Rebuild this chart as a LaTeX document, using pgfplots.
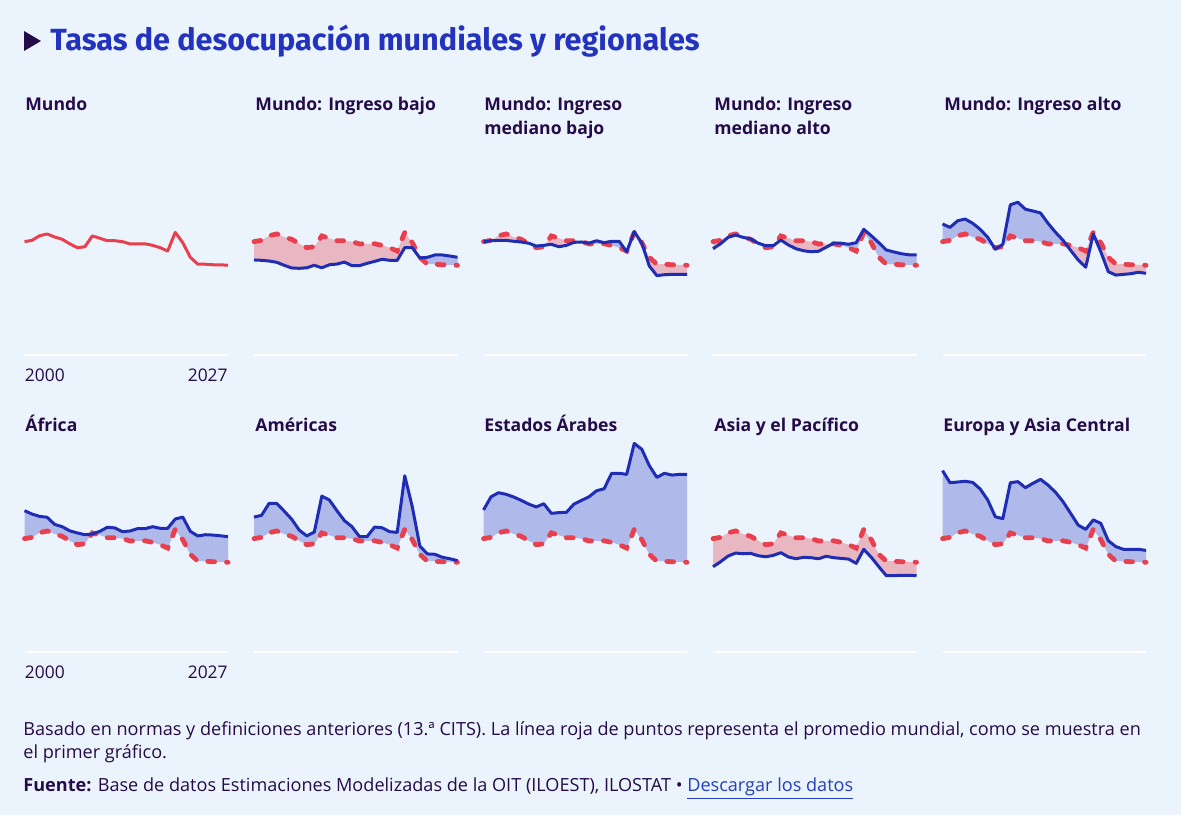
\documentclass[border=0pt]{standalone}
\usepackage{pgfplots}
\pgfplotsset{compat=1.18}
\usepackage{pgfplotstable}
\usepgfplotslibrary{fillbetween}
\usepackage{fontspec}
\setmainfont{Open Sans}
\newfontfamily\titlefont{Fira Sans}
\definecolor{bg}{HTML}{EBF4FC}
\definecolor{blueline}{HTML}{1F2DB5}
\definecolor{redline}{HTML}{E8404F}
\definecolor{bluefill}{HTML}{AFB9EA}
\definecolor{redfill}{HTML}{E8B7C2}
\definecolor{titleblue}{HTML}{2333BE}
\definecolor{ink}{HTML}{250B48}
\definecolor{linkblue}{HTML}{2240C0}
\pagecolor{bg}

\pgfplotstableread{
year world bajo mbajo malto alto afr ame arab asia eur
2000 6.37 5.34 6.36 5.97 7.36 7.94 7.58 7.98 4.79 10.19
2001 6.44 5.32 6.42 6.25 7.17 7.75 7.68 8.72 5.07 9.51
2002 6.70 5.28 6.44 6.61 7.54 7.62 8.35 8.95 5.39 9.55
2003 6.80 5.21 6.44 6.74 7.64 7.57 8.35 8.86 5.56 9.59
2004 6.63 5.04 6.39 6.61 7.40 7.17 7.92 8.71 5.52 9.53
2005 6.50 4.89 6.35 6.52 7.06 7.04 7.46 8.52 5.54 9.16
2006 6.25 4.87 6.28 6.28 6.61 6.81 6.85 8.31 5.41 8.54
2007 6.03 4.90 6.12 6.14 5.94 6.69 6.52 8.15 5.35 7.60
2008 6.08 5.04 6.16 6.14 6.22 6.59 6.74 8.33 5.43 7.49
2009 6.69 4.90 6.22 6.46 8.44 6.63 8.76 7.79 5.58 9.51
2010 6.56 5.07 6.08 6.18 8.58 6.78 8.54 7.83 5.34 9.57
2011 6.42 5.11 6.16 5.97 8.19 7.01 7.94 7.85 5.24 9.23
2012 6.42 5.22 6.33 5.86 8.09 6.97 7.38 8.31 5.32 9.48
2013 6.37 5.02 6.35 5.80 7.98 6.76 7.04 8.52 5.30 9.70
2014 6.24 5.02 6.28 5.83 7.40 6.80 6.48 8.72 5.24 9.38
2015 6.25 5.15 6.42 6.05 6.89 6.93 6.48 9.06 5.38 8.97
2016 6.25 5.26 6.31 6.28 6.44 6.93 7.02 9.17 5.30 8.44
2017 6.16 5.38 6.39 6.28 5.88 7.04 6.98 10.04 5.26 7.79
2018 6.03 5.32 6.39 6.22 5.34 6.95 6.76 10.04 5.22 7.13
2019 5.84 5.32 5.80 6.31 4.93 6.95 6.72 9.98 4.98 6.89
2020 6.89 6.03 6.93 7.06 6.80 7.47 9.90 11.72 5.77 7.42
2021 6.31 6.03 6.28 6.70 5.80 7.58 8.16 11.39 5.32 7.23
2022 5.49 5.45 5.00 6.31 4.68 6.78 5.96 10.47 4.79 6.25
2023 5.10 5.49 4.46 5.90 4.49 6.52 5.51 9.81 4.29 5.92
2024 5.10 5.62 4.51 5.79 4.53 6.59 5.49 10.04 4.29 5.77
2025 5.07 5.62 4.53 5.69 4.57 6.57 5.32 9.94 4.31 5.77
2026 5.07 5.56 4.53 5.63 4.65 6.53 5.24 9.98 4.31 5.77
2027 5.04 5.49 4.53 5.63 4.59 6.48 5.13 9.98 4.29 5.71
}\data

\newcommand{\ptfont}{\fontsize{8.8}{10}\selectfont\bfseries}
\newcommand{\tickfont}{\fontsize{8.7}{10}\selectfont}

\pgfplotsset{
  panel/.style={
    scale only axis, width=101.75pt, height=106.8pt,
    xmin=2000, xmax=2027, ymin=0, ymax=12,
    anchor=south west, clip=false,
    axis x line*=bottom, axis y line=none,
    axis line style={draw=white, line width=0.6pt},
    xtick=\empty, ytick=\empty,
    tick style={draw=none},
  },
  years/.style={
    xtick={2000}, xticklabels={2000},
    extra x ticks={2027}, extra x tick labels={2027},
    xticklabel style={anchor=north west, inner sep=0pt, font=\tickfont, text=ink, yshift=-6.5pt},
    extra x tick style={xticklabel style={anchor=north east}},
  },
}

% a coloured stretch of the band between the region (R) and the world (W)
\newcommand{\seg}[3]{\addplot[fill=#1, draw=none] fill between[of=R and W, soft clip={domain=#2:#3}];}

% #1 extra options, #2 x px, #3 baseline y px, #4 column, #5 band stretches
\newcommand{\panel}[5][]{%
\begin{axis}[panel, at={(#2*0.5pt,-#3*0.5pt)}, #1]
\addplot[draw=none, name path=R] table[x=year, y=#4]{\data};
\addplot[draw=none, name path=W] table[x=year, y=world]{\data};
#5
\addplot[redline, line width=2.4pt, dash pattern=on 3.4pt off 6pt, line cap=round] table[x=year, y=world]{\data};
\addplot[blueline, line width=1.5pt, line join=round] table[x=year, y=#4]{\data};
\end{axis}}

\begin{document}
\begin{tikzpicture}
\begin{scope}[x=0.5pt, y=-0.5pt]
\fill[ink] (24,31) -- (24,51) -- (41,41) -- cycle;
\node[anchor=base west, inner sep=0pt, text=titleblue, font=\titlefont\bfseries\fontsize{15.3}{18}\selectfont] at (50,50) {Tasas de desocupación mundiales y regionales};
\end{scope}

% row 1
\begin{axis}[panel, years, at={(12.25pt,-177.5pt)}]
\addplot[redline, line width=1.5pt, line join=round] table[x=year, y=world]{\data};
\end{axis}
\panel{254}{355}{bajo}{\seg{redfill}{2000}{2022.09}\seg{bluefill}{2022.09}{2027}}
\panel{483.5}{355}{mbajo}{\seg{redfill}{2000}{2005.83}\seg{bluefill}{2005.83}{2008.15}%
  \seg{redfill}{2008.15}{2013.33}\seg{bluefill}{2013.33}{2018.9}\seg{redfill}{2018.9}{2019.5}%
  \seg{bluefill}{2019.5}{2020.57}\seg{redfill}{2020.57}{2027}}
\panel{713}{355}{malto}{\seg{redfill}{2000}{2004.5}\seg{bluefill}{2004.5}{2008.21}%
  \seg{redfill}{2008.21}{2015.87}\seg{bluefill}{2015.87}{2027}}
\panel{942.5}{355}{alto}{\seg{bluefill}{2000}{2006.8}\seg{redfill}{2006.8}{2007.39}%
  \seg{bluefill}{2007.39}{2016.4}\seg{redfill}{2016.4}{2027}}
% row 2
\panel[years]{24.5}{652}{afr}{\seg{bluefill}{2000}{2008.89}\seg{redfill}{2008.89}{2009.21}%
  \seg{bluefill}{2009.21}{2027}}
\panel{254}{652}{ame}{\seg{bluefill}{2000}{2027}}
\panel{483.5}{652}{arab}{\seg{bluefill}{2000}{2027}}
\panel{713}{652}{asia}{\seg{redfill}{2000}{2027}}
\panel{942.5}{652}{eur}{\seg{bluefill}{2000}{2027}}

\begin{scope}[x=0.5pt, y=-0.5pt]
\begin{scope}[every node/.style={anchor=base west, inner sep=0pt, font=\ptfont, text=ink}]
\node at (25,110) {Mundo};
\node at (255,110) {Mundo: Ingreso bajo};
\node at (484,110) {Mundo: Ingreso};
\node at (484,134) {mediano bajo};
\node at (714,110) {Mundo: Ingreso};
\node at (714,134) {mediano alto};
\node at (944,110) {Mundo: Ingreso alto};
\node at (25,431) {África};
\node at (255,431) {Américas};
\node at (484,431) {Estados Árabes};
\node at (714,431) {Asia y el Pacífico};
\node at (943,431) {Europa y Asia Central};
\end{scope}
\begin{scope}[every node/.style={anchor=base west, inner sep=0pt, font=\fontsize{9.05}{10}\selectfont, text=ink}]
\node at (23,735) {Basado en normas y definiciones anteriores (13.ª CITS). La línea roja de puntos representa el promedio mundial, como se muestra en};
\node at (23,758) {el primer gráfico.};
\node at (23,791) {\textbf{Fuente:} Base de datos Estimaciones Modelizadas de la OIT (ILOEST), ILOSTAT • \textcolor{linkblue}{\underline{Descargar los datos}}};
\end{scope}
\pgfresetboundingbox
\useasboundingbox (0,0) rectangle (1181,815);
\end{scope}
\end{tikzpicture}
\end{document}
